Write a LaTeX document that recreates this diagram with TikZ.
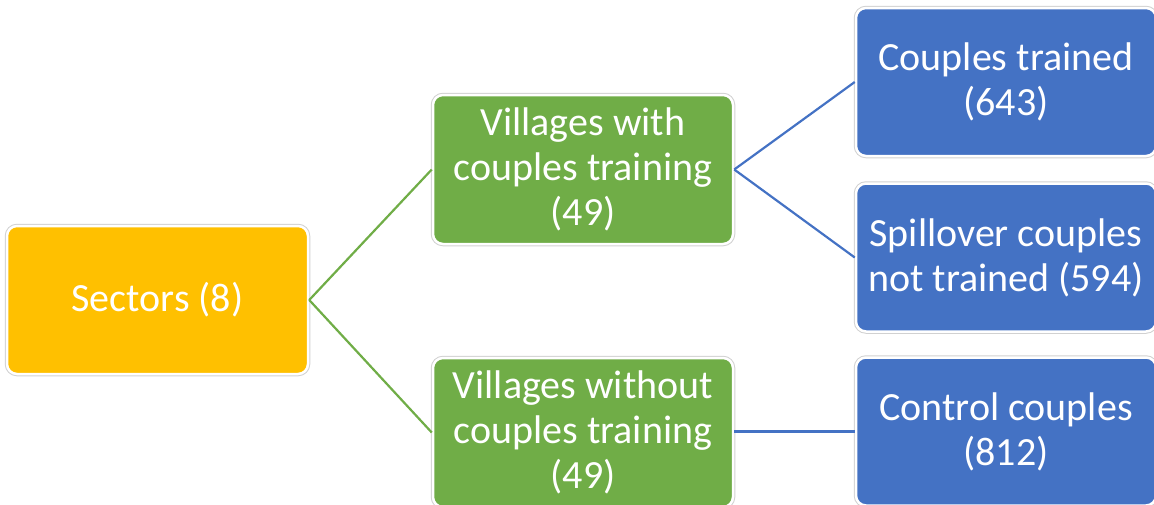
\documentclass[tikz,border=0pt]{standalone}
\usepackage{fontspec}
\setmainfont{Carlito}
\definecolor{cOrange}{HTML}{FFC000}
\definecolor{cGreen}{HTML}{70AD47}
\definecolor{cBlue}{HTML}{4472C4}
\begin{document}
\begin{tikzpicture}[x=1pt,y=-1pt,
  box/.style={rounded corners=10pt, minimum width=300pt, minimum height=148pt, inner sep=0pt,
    draw=white, line width=2.5pt, preaction={draw=black!18, line width=4.5pt},
    text=white, align=center, font=\fontsize{40}{45}\selectfont},
  obox/.style={box, fill=cOrange},
  gbox/.style={box, fill=cGreen},
  bbox/.style={box, fill=cBlue},
  gline/.style={draw=cGreen, line width=2.2pt},
  bline/.style={draw=cBlue, line width=2.2pt}]
\clip (0,0) rectangle (1154,504);
\useasboundingbox (0,0) rectangle (1154,504);
\node[obox, minimum width=301pt] (sec) at (157.5,300) {Sectors (8)};
\node[gbox, minimum height=149pt] (vw) at (583,169.5) {Villages with\\couples training\\(49)};
\node[gbox, minimum height=149pt] (vwo) at (583,432.5) {Villages without\\couples training\\(49)};
\node[bbox] (ct) at (1006,82) {Couples trained\\(643)};
\node[bbox] (sp) at (1006,257.5) {Spillover couples\\not trained (594)};
\node[bbox] (cc) at (1006,431.5) {Control couples\\(812)};
\draw[gline] (sec.east) -- (vw.west);
\draw[gline] (sec.east) -- (vwo.west);
\draw[bline] (vw.east) -- (ct.west);
\draw[bline] (vw.east) -- (sp.west);
\draw[bline] (vwo.east |- cc.west) -- (cc.west);
\end{tikzpicture}
\end{document}
